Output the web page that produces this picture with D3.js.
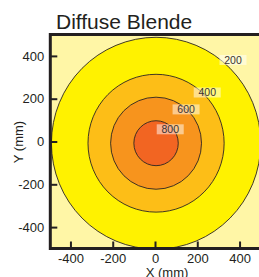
<!DOCTYPE html>
<html>
<head>
<meta charset="utf-8">
<script src="https://cdn.jsdelivr.net/npm/d3@7"></script>
<style>
  body { margin: 0; background: #fff; }
  svg { display: block; font-family: "Liberation Sans", Arial, sans-serif; }
</style>
</head>
<body>
<div id="chart"></div>
<script>
var width = 259, height = 277;

// contour data (mm)
var levels   = [200, 400, 600, 800];
var radii    = [495, 322, 215, 105];
var center   = [5, -8];
var fills    = ["#fff200", "#fdbe17", "#f7941d", "#f26522"];
var bgFill   = "#fff6a6";
var labelX   = [369, 247, 147, 72];
var labelY   = [381, 229, 150, 57];
var ticks    = [-400, -200, 0, 200, 400];

var x = d3.scaleLinear().domain([-500, 500]).range([49.3, 260.7]);
var y = d3.scaleLinear().domain([-500, 500]).range([248.5, 34.5]);

var svg = d3.select("#chart")
    .append("svg")
    .attr("width", width)
    .attr("height", height);

svg.append("clipPath").attr("id", "plotclip")
    .append("rect")
    .attr("x", x(-500)).attr("y", y(500))
    .attr("width", x(500) - x(-500)).attr("height", y(-500) - y(500));

var plot = svg.append("g").attr("clip-path", "url(#plotclip)");

plot.append("rect")
    .attr("x", x(-500)).attr("y", y(500))
    .attr("width", x(500) - x(-500)).attr("height", y(-500) - y(500))
    .attr("fill", bgFill);

plot.selectAll("ellipse")
    .data(levels)
    .enter().append("ellipse")
    .attr("cx", x(center[0]))
    .attr("cy", y(center[1]))
    .attr("rx", function(d, i) { return x(radii[i]) - x(0); })
    .attr("ry", function(d, i) { return y(0) - y(radii[i]); })
    .attr("fill", function(d, i) { return fills[i]; })
    .attr("stroke", "#2b2523")
    .attr("stroke-width", 0.9);

// contour labels
var lab = plot.selectAll("g.lab")
    .data(levels)
    .enter().append("g")
    .attr("class", "lab")
    .attr("transform", function(d, i) { return "translate(" + x(labelX[i]) + "," + y(labelY[i]) + ")"; });

lab.append("rect")
    .attr("x", -13.5).attr("y", -5)
    .attr("width", 27).attr("height", 10)
    .attr("fill", "#fff")
    .attr("fill-opacity", 0.5);

lab.append("text")
    .attr("text-anchor", "middle")
    .attr("dy", "0.36em")
    .style("font-size", "10.5px")
    .attr("fill", "#3a3332")
    .text(function(d) { return d; });

// axes
var fmt = function(d) { return String(d); };

var xAxis = svg.append("g")
    .attr("transform", "translate(0," + y(-500) + ")")
    .call(d3.axisBottom(x).tickValues(ticks).tickFormat(fmt).tickSizeInner(-7).tickSizeOuter(0).tickPadding(5));

var yAxis = svg.append("g")
    .attr("transform", "translate(" + (x(-500) + 1) + ",0)")
    .call(d3.axisLeft(y).tickValues(ticks).tickFormat(fmt).tickSizeInner(-7).tickSizeOuter(0).tickPadding(6));

[xAxis, yAxis].forEach(function(a) {
    a.select(".domain").remove();
    a.selectAll(".tick line").attr("stroke", "#231f20").attr("stroke-width", 2);
    a.selectAll(".tick text")
        .attr("fill", "#231f20")
        .style("font-size", "13px")
        .style("font-family", "'Liberation Sans', Arial, sans-serif");
});

// frame
svg.append("rect")
    .attr("x", x(-500) + 1).attr("y", y(500))
    .attr("width", x(500) - x(-500)).attr("height", y(-500) - y(500))
    .attr("fill", "none")
    .attr("stroke", "#231f20")
    .attr("stroke-width", 3);

svg.append("text")
    .attr("x", 56)
    .attr("y", 29)
    .style("font-size", "21px")
    .attr("fill", "#231f20")
    .text("Diffuse Blende");

svg.append("text")
    .attr("x", 167)
    .attr("y", 277)
    .attr("text-anchor", "middle")
    .style("font-size", "13px")
    .attr("fill", "#231f20")
    .text("X (mm)");

svg.append("text")
    .attr("transform", "translate(23,142) rotate(-90)")
    .attr("text-anchor", "middle")
    .style("font-size", "13px")
    .attr("fill", "#231f20")
    .text("Y (mm)");
</script>
</body>
</html>
